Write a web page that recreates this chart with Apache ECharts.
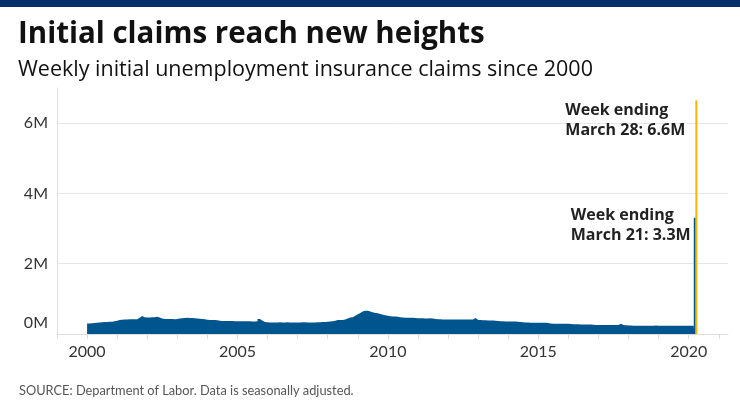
<!DOCTYPE html>
<html><head><meta charset="utf-8">
<script src="https://cdn.jsdelivr.net/npm/echarts@6/dist/echarts.min.js"></script>
<style>html,body{margin:0;padding:0;background:#fff}#c{width:740px;height:416px}</style>
</head><body><div id="c"></div><script>
// Monthly level of weekly initial claims (thousands), Jan 2000 .. Feb 2020
const monthlyStartYear = 2000;
const claims2000 = [300,305,310,320,330,335,340,345,348,352,365,380];
const claims2001 = [395,405,410,415,420,420,418,420,460,515,480,470];
const claims2002 = [470,475,480,490,470,440,430,425,425,425,420,425];
const claims2003 = [440,450,455,460,455,455,450,440,435,430,420,405];
const claims2004 = [400,398,395,390,380,372,370,370,368,368,366,365];
const claims2005 = [365,362,360,362,360,358,355,360,430,380,340,335];
const claims2006 = [330,328,328,330,332,330,330,332,330,328,330,330];
const claims2007 = [330,332,335,330,328,330,330,332,335,340,345,350];
const claims2008 = [355,360,380,395,400,398,410,440,470,480,520,560];
const claims2009 = [600,640,663,660,640,620,600,590,570,550,530,520];
const claims2010 = [505,500,495,490,475,470,465,465,462,460,455,450];
const claims2011 = [448,445,440,440,445,440,430,420,418,415,415,412];
const claims2012 = [415,414,412,415,415,414,412,412,410,415,455,400];
const claims2013 = [395,390,388,385,385,385,380,370,360,360,358,358];
const claims2014 = [356,355,355,352,345,335,328,325,322,320,320,320];
const claims2015 = [322,320,318,310,300,295,295,293,293,292,290,290];
const claims2016 = [288,280,276,275,273,273,272,272,270,262,258,256];
const claims2017 = [256,256,256,256,256,255,255,256,290,258,250,245];
const claims2018 = [240,238,236,238,235,234,236,233,232,236,240,238];
const claims2019 = [236,235,236,232,234,236,234,237,236,234,236,235];
const claims2020 = [236,236];
// Weekly values for early March 2020 (thousands)
const weekEnding = ['2020-03-07','2020-03-14'];
const weeklyClaimsK = [240, 290];
// The two record weeks
const spikeWeeks = ['2020-03-21','2020-03-28'];
const spikeClaims = [3307000, 6648000];
const spikeLabels = ['Week ending\nMarch 21: 3.3M','Week ending\nMarch 28: 6.6M'];
const yTicks = [0, 2000000, 4000000, 6000000];
const xLabelYears = [2000, 2005, 2010, 2015, 2020];
const xTickYears = [1999,2000,2001,2002,2003,2004,2005,2006,2007,2008,2009,2010,2011,2012,2013,2014,2015,2016,2017,2018,2019,2020,2021];

const monthly = [].concat(claims2000,claims2001,claims2002,claims2003,claims2004,claims2005,claims2006,
  claims2007,claims2008,claims2009,claims2010,claims2011,claims2012,claims2013,claims2014,claims2015,
  claims2016,claims2017,claims2018,claims2019,claims2020);

function toYear(d){ // Date -> decimal year
  const y = d.getUTCFullYear();
  const s = Date.UTC(y,0,1), e = Date.UTC(y+1,0,1);
  return y + (d.getTime()-s)/(e-s);
}
function parse(str){ const p = str.split('-').map(Number); return new Date(Date.UTC(p[0],p[1]-1,p[2])); }

const areaData = monthly.map((v,i)=>[toYear(new Date(Date.UTC(monthlyStartYear,i,1))), v*1000]);
weekEnding.forEach((w,i)=>{
  const d = parse(w); d.setUTCDate(d.getUTCDate()-6);
  areaData.push([toYear(d), weeklyClaimsK[i]*1000]);
});
{ const d = parse(weekEnding[weekEnding.length-1]); d.setUTCDate(d.getUTCDate()+1);
  areaData.push([toYear(d), weeklyClaimsK[weeklyClaimsK.length-1]*1000]); }

const BLUE = '#00558f', ORANGE = '#f7b500';
const FONT = 'Lato', HFONT = 'Open Sans';
const chart = echarts.init(document.getElementById('c'), null, {renderer:'canvas'});
chart.setOption({
  animation:false,
  backgroundColor:'#fff',
  textStyle:{fontFamily:FONT},
  graphic:[{type:'rect', left:0, top:0, shape:{width:740,height:7}, style:{fill:'#04306b'}}],
  title:[
    {text:'Initial claims reach new heights', left:13, top:15,
     textStyle:{fontFamily:HFONT, fontSize:29.5, fontWeight:'bold', color:'#111'}},
    {text:'Weekly initial unemployment insurance claims since 2000', left:13, top:54,
     textStyle:{fontFamily:HFONT, fontSize:21.5, fontWeight:'normal', color:'#111'}},
    {text:'SOURCE: Department of Labor. Data is seasonally adjusted.', left:14, top:379,
     textStyle:{fontFamily:FONT, fontSize:12.8, fontWeight:'normal', color:'#555'}}
  ],
  grid:{left:57, right:12, top:88, bottom:82},
  xAxis:{type:'value', min:1999, max:toYear(parse('2021-04-23')),
    axisLine:{show:true, lineStyle:{color:'#dddddd'}},
    axisTick:{show:true, customValues:xTickYears, length:5, lineStyle:{color:'#dddddd'}},
    axisLabel:{customValues:xLabelYears, formatter:v=>String(Math.round(v)), color:'#333', fontSize:16, margin:10, fontFamily:FONT},
    splitLine:{show:false}},
  yAxis:{type:'value', min:0, max:7000000, interval:2000000,
    axisLine:{show:true, lineStyle:{color:'#dddddd'}},
    axisTick:{show:false},
    axisLabel:{customValues:yTicks, color:'#333', fontSize:16, margin:9, fontFamily:FONT,
      formatter:v=> v===0 ? '{z|0M}' : (v/1e6)+'M',
      rich:{z:{fontSize:16, color:'#333', fontFamily:FONT, padding:[0,0,22,0]}}},
    splitLine:{show:true, showMaxLine:false, lineStyle:{color:'#e6e6e6'}}},
  series:[
    {type:'line', step:'end', data:areaData, symbol:'none', silent:true,
     lineStyle:{width:0, color:BLUE}, areaStyle:{color:BLUE, opacity:1}},
    {type:'bar', barWidth:2, barGap:'-50%', silent:true,
     data:[{value:[toYear(parse(spikeWeeks[0])), spikeClaims[0]], itemStyle:{color:BLUE},
       label:{show:true, formatter:spikeLabels[0], position:'top', distance:0, align:'left', verticalAlign:'top',
         offset:[-124,-12], fontSize:16, fontWeight:'bold', lineHeight:20, color:'#222', fontFamily:HFONT}}]},
    {type:'bar', barWidth:2, barGap:'-50%', silent:true,
     data:[{value:[toYear(parse(spikeWeeks[1])), spikeClaims[1]], itemStyle:{color:ORANGE},
       label:{show:true, formatter:spikeLabels[1], position:'top', distance:0, align:'left', verticalAlign:'top',
         offset:[-131,0], fontSize:16, fontWeight:'bold', lineHeight:20, color:'#222', fontFamily:HFONT}}]}
  ]
});
</script></body></html>
